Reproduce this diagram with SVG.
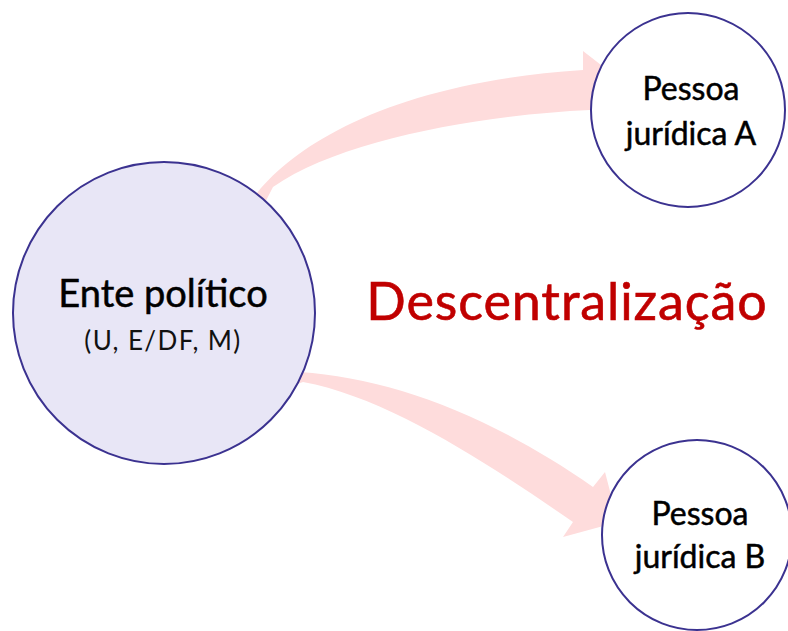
<svg xmlns="http://www.w3.org/2000/svg" width="788" height="631" viewBox="0 0 788 631">
<style>
.arrow{fill:#fedcdc;stroke:none}
.node{stroke:#3b3290;stroke-width:2}
.t{font-family:Lato,"Noto Sans",sans-serif;fill:#000;stroke:#000;stroke-width:0.5;text-anchor:middle}
.sub{stroke:none;fill:#111}
</style>
<rect width="788" height="631" fill="#fff"/>
<g id="connectors">
<path class="arrow" d="M235,220 L257,193 C300,140 400,82 583,70 L583,51 L623,82 L591,126 L590,110 C480,115 340,140 273,187 L255,222 Z"/>
<path class="arrow" d="M280,368 L300,372 C390,378 490,415 593,487 L605,472 L618,522 L563,537 L573,522 C490,465 390,398 303,382 L280,390 Z"/>
</g>
<g id="ente">
<circle class="node" cx="164" cy="313" r="151" fill="#e8e6f6"/>
<text class="t" x="163" y="307" font-size="38">Ente político</text>
<text class="t sub" x="163" y="350" font-size="26" letter-spacing="1.4">(U, E/DF, M)</text>
</g>
<g id="pessoaA">
<circle class="node" cx="688" cy="110" r="97" fill="#fff"/>
<text class="t" x="691" y="100" font-size="32">Pessoa</text>
<text class="t" x="691" y="145" font-size="32">jurídica A</text>
</g>
<g id="pessoaB">
<circle class="node" cx="697" cy="535" r="95" fill="#fff"/>
<text class="t" x="700" y="525" font-size="32">Pessoa</text>
<text class="t" x="700" y="568" font-size="32">jurídica B</text>
</g>
<text id="label" x="567" y="320" font-family="Lato,'Noto Sans',sans-serif" font-size="52" letter-spacing="0.9" fill="#c00000" stroke="#c00000" stroke-width="0.6" text-anchor="middle">Descentralização</text>
</svg>
